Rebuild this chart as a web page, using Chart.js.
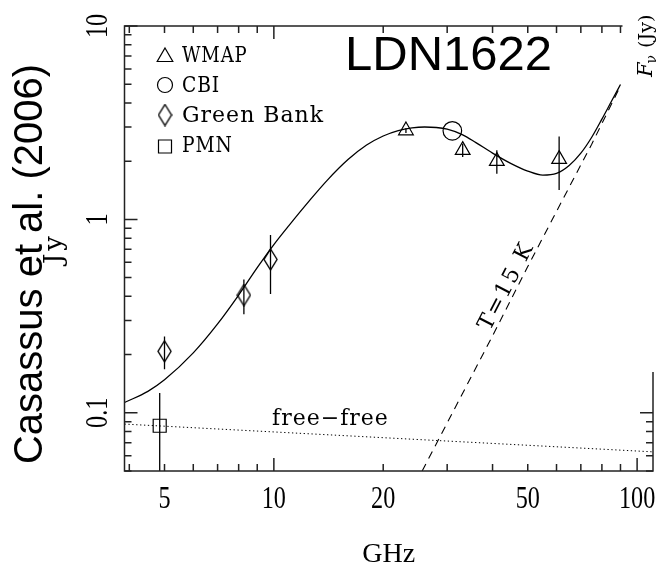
<!DOCTYPE html>
<html>
<head>
<meta charset="utf-8">
<script src="https://cdn.jsdelivr.net/npm/chart.js@4.4.0/dist/chart.umd.min.js"></script>
<style>
  html, body { margin: 0; padding: 0; background: #fff; }
  canvas { display: block; }
</style>
</head>
<body>
<canvas id="myChart" width="664" height="568"></canvas>
<script>
// values: GHz / Jy
const wmapFreq = [23.1, 33.1, 41.1, 61.0];
const wmapFlux = [2.88, 2.28, 2.00, 2.05];
const wmapErr = [0.08, 0.18, 0.28, 0.63];

const cbiFreq = [31.0];
const cbiFlux = [2.87];

const gbFreq = [5.0, 8.27, 9.79];
const gbFlux = [0.208, 0.406, 0.621];
const gbErr = [0.04, 0.083, 0.21];

const pmnFreq = [4.85];
const pmnFlux = [0.0857];
const pmnErr = [0.041];

// total model (solid)
const modelFreq = [3.88, 4.5, 5, 6, 7, 8, 9, 10, 11, 12.5, 14, 16, 18, 20, 22, 24, 26, 28, 30, 33, 36, 40, 45, 50, 55, 60, 65, 70, 75, 80, 85, 90];
const modelFlux = [0.113, 0.129, 0.148, 0.204, 0.288, 0.406, 0.563, 0.741, 0.929, 1.243, 1.587, 2.038, 2.423, 2.700, 2.879, 2.972, 3.004, 2.986, 2.926, 2.745, 2.495, 2.202, 1.943, 1.777, 1.694, 1.729, 1.90, 2.20, 2.66, 3.30, 4.08, 4.98];

// T=15 K dust (dashed)
const dustFreq = [25.6, 40, 50, 60, 75, 90];
const dustFlux = [0.05, 0.25, 0.57, 1.1, 2.45, 4.9];

// free-free (dotted)
const ffFreq = [3.88, 110.6];
const ffFlux = [0.0874, 0.0628];

const xTicks = [5, 10, 20, 50, 100];
const yTicks = [0.1, 1, 10];

const pts = (xs, ys) => xs.map((x, i) => ({ x, y: ys[i] }));

// tall open diamond used by Green Bank
function diamond(w, h) {
  const c = document.createElement('canvas');
  c.width = w + 2; c.height = h + 2;
  const g = c.getContext('2d');
  g.strokeStyle = '#000';
  g.lineWidth = 1.4;
  g.beginPath();
  g.moveTo(c.width / 2, 1);
  g.lineTo(c.width - 1, c.height / 2);
  g.lineTo(c.width / 2, c.height - 1);
  g.lineTo(1, c.height / 2);
  g.closePath();
  g.stroke();
  return c;
}
const diamondImg = diamond(13, 21);

const serif = '"DejaVu Serif", serif';
const roman = '"Liberation Serif", serif';

function txt(ctx, s, x, y, o) {
  ctx.save();
  ctx.translate(x, y);
  if (o.rot) ctx.rotate(o.rot);
  if (o.sx) ctx.scale(o.sx, 1);
  ctx.font = o.font;
  ctx.textAlign = o.align || 'left';
  ctx.textBaseline = 'alphabetic';
  ctx.letterSpacing = (o.ls || 0) + 'px';
  ctx.fillStyle = '#000';
  ctx.fillText(s, 0, 0);
  ctx.restore();
}

const errorBars = {
  id: 'errorBars',
  afterDatasetsDraw(chart) {
    const { ctx, chartArea: a, scales: { x, y } } = chart;
    ctx.save();
    ctx.beginPath();
    ctx.rect(a.left, a.top, a.right - a.left, a.bottom - a.top);
    ctx.clip();
    ctx.strokeStyle = '#000';
    ctx.lineWidth = 1.3;
    chart.data.datasets.forEach(ds => {
      if (!ds.err) return;
      ds.data.forEach((p, i) => {
        const e = ds.err[i];
        if (!e) return;
        const px = x.getPixelForValue(p.x);
        ctx.beginPath();
        ctx.moveTo(px, y.getPixelForValue(p.y + e));
        ctx.lineTo(px, y.getPixelForValue(Math.max(p.y - e, 1e-4)));
        ctx.stroke();
      });
    });
    ctx.restore();
  }
};

function minorValues(min, max) {
  const out = [];
  for (let d = -3; d <= 3; d++) {
    for (let k = 1; k <= 9; k++) {
      const v = k * Math.pow(10, d);
      if (v >= min * 0.999 && v <= max * 1.001) out.push({ v, major: k === 1 });
    }
  }
  return out;
}

const frame = {
  id: 'frame',
  afterDraw(chart) {
    const { ctx, chartArea: a, scales: { x, y } } = chart;
    ctx.save();
    ctx.strokeStyle = '#222';
    ctx.lineWidth = 1.5;
    ctx.strokeRect(a.left, a.top, a.right - a.left, a.bottom - a.top);
    ctx.beginPath();
    minorValues(x.min, x.max).forEach(t => {
      const px = x.getPixelForValue(t.v), len = t.major ? 13 : 7;
      ctx.moveTo(px, a.bottom); ctx.lineTo(px, a.bottom - len);
      ctx.moveTo(px, a.top); ctx.lineTo(px, a.top + len);
    });
    minorValues(y.min, y.max).forEach(t => {
      const py = y.getPixelForValue(t.v), len = t.major ? 13 : 7;
      ctx.moveTo(a.left, py); ctx.lineTo(a.left + len, py);
      ctx.moveTo(a.right, py); ctx.lineTo(a.right - len, py);
    });
    ctx.stroke();
    ctx.restore();

    // top-right corner is blanked in the original figure
    ctx.save();
    ctx.fillStyle = '#fff';
    ctx.fillRect(622.5, 0, 664 - 622.5, 372);
    ctx.restore();

    // tick labels
    xTicks.forEach(v => txt(ctx, String(v), x.getPixelForValue(v), 508,
      { font: '31px ' + roman, align: 'center', sx: 0.78 }));
    yTicks.forEach(v => txt(ctx, String(v), 107, y.getPixelForValue(v),
      { font: '31px ' + roman, align: 'center', sx: 0.78, rot: -Math.PI / 2 }));

    // axis titles
    txt(ctx, 'GHz', (a.left + a.right) / 2, 562, { font: '28px ' + roman, align: 'center' });
    txt(ctx, 'Jy', 62, (a.top + a.bottom) / 2, { font: '26px ' + serif, align: 'center', ls: 3, rot: -Math.PI / 2 });
    txt(ctx, 'Casassus et al. (2006)', 42, 264, { font: '40px "Liberation Sans", Arial, sans-serif', align: 'center', rot: -Math.PI / 2 });
    txt(ctx, 'LDN1622', 345, 70, { font: '49px "Liberation Sans", Arial, sans-serif' });

    // F_nu (Jy)
    ctx.save();
    ctx.translate(652, 77);
    ctx.rotate(-Math.PI / 2);
    ctx.fillStyle = '#000';
    ctx.textBaseline = 'alphabetic';
    ctx.font = 'italic 21px ' + serif;
    ctx.fillText('F', 0, 0);
    let w = ctx.measureText('F').width;
    ctx.font = '14px ' + serif;
    ctx.fillText('ν', w - 1, 4);
    w += ctx.measureText('ν').width;
    ctx.font = '19px ' + serif;
    ctx.fillText(' (Jy)', w, 0);
    ctx.restore();

    // line labels
    txt(ctx, 'free\u2212free', 272, 425, { font: '22px ' + serif, ls: 1 });
    txt(ctx, 'T=15 K', 512, 289, { font: '22px ' + serif, align: 'center', ls: 2, rot: -Math.atan(1.933) });

    // legend
    const rows = [
      { label: 'WMAP', style: 'triangle', r: 9, base: 62, dy: -5, sx: 0.82 },
      { label: 'CBI', style: 'circle', r: 7.5, base: 92, dy: -7, sx: 0.85 },
      { label: 'Green Bank', style: diamondImg, r: 8, base: 122, dy: -7 },
      { label: 'PMN', style: 'rect', r: 9.2, base: 152, dy: -5.5, sx: 0.85 }
    ];
    rows.forEach(row => {
      ctx.save();
      ctx.strokeStyle = '#000';
      ctx.fillStyle = 'rgba(0,0,0,0)';
      ctx.lineWidth = 1.2;
      Chart.helpers.drawPoint(ctx, { pointStyle: row.style, radius: row.r, borderWidth: 1.2, rotation: 0 }, 165, row.base + row.dy);
      ctx.restore();
      txt(ctx, row.label, 182, row.base, { font: '22px ' + serif, ls: 1, sx: row.sx });
    });
  }
};

const ctx = document.getElementById('myChart').getContext('2d');
const myChart = new Chart(ctx, {
  type: 'scatter',
  data: {
    datasets: [
      {
        label: 'model',
        data: pts(modelFreq, modelFlux),
        showLine: true,
        borderColor: '#000',
        borderWidth: 1.3,
        pointRadius: 0,
        cubicInterpolationMode: 'monotone'
      },
      {
        label: 'T=15 K',
        data: pts(dustFreq, dustFlux),
        showLine: true,
        borderColor: '#000',
        borderWidth: 1.1,
        borderDash: [8, 6],
        pointRadius: 0
      },
      {
        label: 'free-free',
        data: pts(ffFreq, ffFlux),
        showLine: true,
        borderColor: '#000',
        borderWidth: 1,
        borderDash: [1.3, 2.6],
        pointRadius: 0
      },
      {
        label: 'WMAP',
        data: pts(wmapFreq, wmapFlux),
        err: wmapErr,
        pointStyle: 'triangle',
        pointRadius: 8.5,
        pointBorderColor: '#000',
        pointBackgroundColor: 'rgba(0,0,0,0)',
        pointBorderWidth: 1.2
      },
      {
        label: 'CBI',
        data: pts(cbiFreq, cbiFlux),
        pointStyle: 'circle',
        pointRadius: 9.3,
        pointBorderColor: '#000',
        pointBackgroundColor: 'rgba(0,0,0,0)',
        pointBorderWidth: 1.2
      },
      {
        label: 'Green Bank',
        data: pts(gbFreq, gbFlux),
        err: gbErr,
        pointStyle: diamondImg,
        pointRadius: 8
      },
      {
        label: 'PMN',
        data: pts(pmnFreq, pmnFlux),
        err: pmnErr,
        pointStyle: 'rect',
        pointRadius: 9.2,
        pointBorderColor: '#000',
        pointBackgroundColor: 'rgba(0,0,0,0)',
        pointBorderWidth: 1.2
      }
    ]
  },
  options: {
    responsive: false,
    animation: false,
    devicePixelRatio: 1,
    events: [],
    layout: { padding: { top: 26, right: 11, bottom: 0, left: 0 } },
    plugins: { legend: { display: false }, tooltip: { enabled: false } },
    scales: {
      x: {
        type: 'logarithmic',
        min: 3.88,
        max: 110.6,
        grid: { display: false },
        border: { display: false },
        ticks: { display: false },
        afterFit: s => { s.height = 97; }
      },
      y: {
        type: 'logarithmic',
        min: 0.05,
        max: 10,
        grid: { display: false },
        border: { display: false },
        ticks: { display: false },
        afterFit: s => { s.width = 124.5; }
      }
    }
  },
  plugins: [errorBars, frame]
});
</script>
</body>
</html>
